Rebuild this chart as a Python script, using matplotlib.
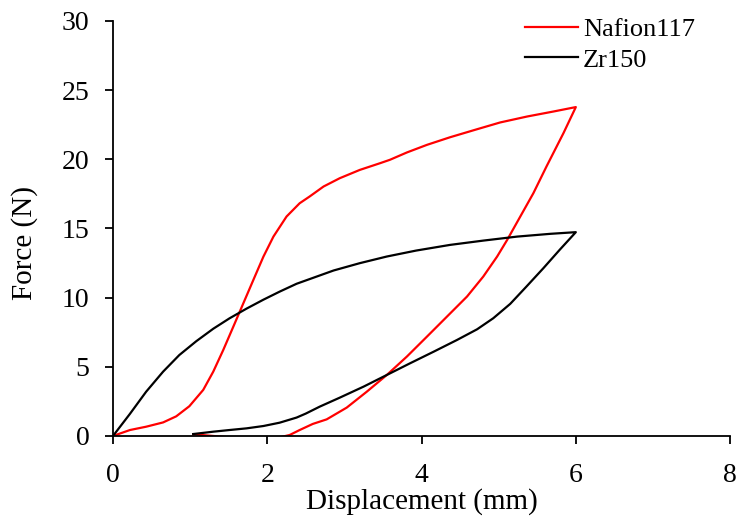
import matplotlib
matplotlib.use("Agg")
import matplotlib.pyplot as plt

# Nafion117 hysteresis loop: loading branch then unloading branch
naf_x = [0.0, 0.22, 0.43, 0.65, 0.82, 0.99, 1.17, 1.30, 1.43, 1.56, 1.69, 1.82,
         1.95, 2.08, 2.25, 2.42, 2.55, 2.73, 2.94, 3.20, 3.46, 3.59, 3.81, 4.07,
         4.37, 4.72, 5.02, 5.37, 5.71, 6.0,
         5.84, 5.62, 5.45, 5.28, 5.11, 4.98, 4.80, 4.59, 4.33, 4.07, 3.81, 3.55,
         3.29, 3.03, 2.77, 2.59, 2.42, 2.29, 2.16, 1.95, 1.73, 1.51, 1.30, 1.04]
naf_y = [0.0, 0.43, 0.67, 0.98, 1.42, 2.15, 3.33, 4.65, 6.22, 7.90, 9.59, 11.28,
         12.96, 14.41, 15.86, 16.82, 17.31, 18.03, 18.63, 19.23, 19.71, 19.96, 20.49, 21.04,
         21.59, 22.17, 22.66, 23.09, 23.45, 23.77,
         21.89, 19.48, 17.55, 15.86, 14.17, 12.97, 11.52, 10.08, 8.63, 7.18, 5.74, 4.41,
         3.20, 2.05, 1.20, 0.87, 0.43, 0.07, -0.10, -0.14, -0.14, -0.10, 0.0, 0.12]

# Zr150 hysteresis loop
zr_x = [0.0, 0.22, 0.43, 0.65, 0.86, 1.08, 1.30, 1.51, 1.73, 1.95, 2.16, 2.38,
        2.64, 2.86, 3.20, 3.55, 3.93, 4.37, 4.80, 5.24, 5.67, 6.0,
        5.79, 5.58, 5.36, 5.15, 4.93, 4.72, 4.46, 4.16, 3.85, 3.55, 3.25, 2.94,
        2.68, 2.50, 2.38, 2.16, 1.95, 1.73, 1.51, 1.30, 1.04]
zr_y = [0.0, 1.60, 3.20, 4.65, 5.85, 6.85, 7.75, 8.50, 9.20, 9.85, 10.43, 11.00,
        11.52, 11.96, 12.49, 12.97, 13.40, 13.81, 14.12, 14.41, 14.61, 14.73,
        13.45, 12.13, 10.80, 9.55, 8.51, 7.71, 6.94, 6.10, 5.25, 4.41, 3.57, 2.77,
        2.12, 1.62, 1.33, 0.96, 0.72, 0.55, 0.43, 0.31, 0.14]

plt.rcParams["font.family"] = ["Liberation Serif", "DejaVu Serif"]

fig = plt.figure(figsize=(7.36, 5.22), dpi=100)
ax = fig.add_axes([0.1535, 0.1648, 0.8385, 0.7952])

ax.plot(naf_x, naf_y, color="#ff0000", lw=1.6, label="Nafion117")
ax.plot(zr_x, zr_y, color="black", lw=1.6, label="Zr150")

ax.set_xlim(0, 8)
ax.set_ylim(0, 30)
ax.set_xticks([0, 2, 4, 6, 8])
ax.set_yticks([0, 5, 10, 15, 20, 25, 30])
for side in ("top", "right"):
    ax.spines[side].set_visible(False)
for side in ("left", "bottom"):
    ax.spines[side].set_linewidth(1.3)
ax.tick_params(direction="out", length=6, width=1.3, labelsize=20)
ax.tick_params(axis="x", pad=13.5)
ax.tick_params(axis="y", pad=11)
ax.set_xlabel("Displacement (mm)", fontsize=21, labelpad=0)
ax.set_ylabel("Force (N)", fontsize=21)
ax.yaxis.set_label_coords(-0.122, 0.465)

ax.legend(loc="upper left", bbox_to_anchor=(525 / 736, 1 - 18 / 522),
          bbox_transform=fig.transFigure, frameon=False, fontsize=19,
          borderpad=0, borderaxespad=0, handlelength=2.0,
          handletextpad=0.2, labelspacing=0.25)

fig.savefig("out.png", dpi=100)
